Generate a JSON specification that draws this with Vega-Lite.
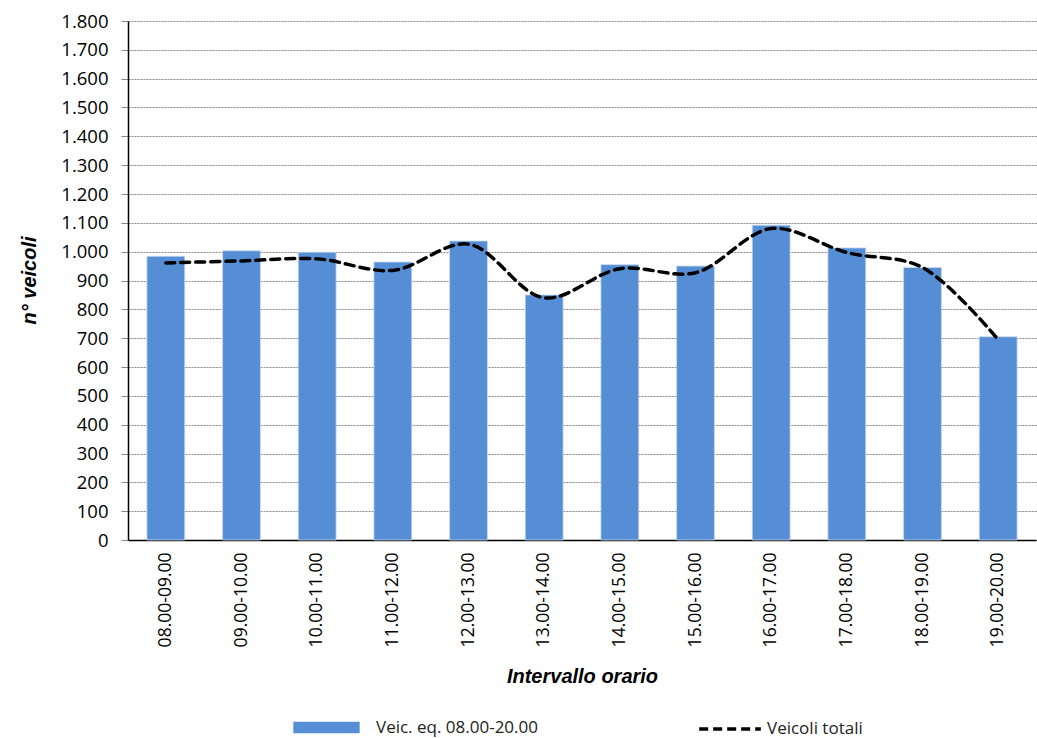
{
  "$schema": "https://vega.github.io/schema/vega-lite/v6.json",
  "autosize": {"type": "none"},
  "width": 908,
  "height": 519,
  "padding": {"left": 128, "top": 21, "right": 1, "bottom": 198},
  "background": "white",
  "config": {
    "view": {"stroke": null},
    "font": "Open Sans"
  },
  "data": {
    "values": [
      {"fascia": "08.00-09.00", "eq": 984, "tot": 961},
      {"fascia": "09.00-10.00", "eq": 1003, "tot": 968},
      {"fascia": "10.00-11.00", "eq": 998, "tot": 975},
      {"fascia": "11.00-12.00", "eq": 964, "tot": 935},
      {"fascia": "12.00-13.00", "eq": 1037, "tot": 1026},
      {"fascia": "13.00-14.00", "eq": 850, "tot": 840},
      {"fascia": "14.00-15.00", "eq": 955, "tot": 941},
      {"fascia": "15.00-16.00", "eq": 950, "tot": 927},
      {"fascia": "16.00-17.00", "eq": 1092, "tot": 1080},
      {"fascia": "17.00-18.00", "eq": 1013, "tot": 997},
      {"fascia": "18.00-19.00", "eq": 945, "tot": 945},
      {"fascia": "19.00-20.00", "eq": 705, "tot": 695}
    ]
  },
  "encoding": {
    "x": {
      "field": "fascia",
      "type": "ordinal",
      "sort": null,
      "scale": {"paddingInner": 0.5, "paddingOuter": 0.25},
      "axis": {
        "title": "Intervallo orario",
        "titleFont": "Liberation Sans",
        "titleFontSize": 20,
        "titleFontWeight": "bold",
        "titleFontStyle": "italic",
        "titleColor": "black",
        "titleBaseline": "middle",
        "titleY": 136,
        "labelAngle": -90,
        "labelFontSize": 17.5,
        "labelColor": "black",
        "labelPadding": 12,
        "labelOverlap": false,
        "ticks": false,
        "domainColor": "black",
        "domainWidth": 1.5,
        "grid": false
      }
    }
  },
  "layer": [
    {
      "mark": {"type": "bar", "stroke": "#c8d9f0", "strokeWidth": 0.8},
      "encoding": {
        "y": {
          "field": "eq",
          "type": "quantitative",
          "scale": {"domain": [0, 1800], "nice": false},
          "axis": {
            "title": "n° veicoli",
            "titleFont": "Liberation Sans",
            "titleFontSize": 20,
            "titleFontWeight": "bold",
            "titleFontStyle": "italic",
            "titleColor": "black",
            "titleX": -99,
            "titleY": 259,
            "titleAngle": -90,
            "titleBaseline": "middle",
            "titleAlign": "center",
            "values": [0,100,200,300,400,500,600,700,800,900,1000,1100,1200,1300,1400,1500,1600,1700,1800],
            "labelExpr": "replace(format(datum.value, ','), ',', '.')",
            "labelFontSize": 18.5,
            "labelColor": "black",
            "labelPadding": 13,
            "labelOverlap": false,
            "tickSize": 7,
            "tickColor": "#888888",
            "domainColor": "black",
            "domainWidth": 1.5,
            "grid": true,
            "gridColor": "#888888",
            "gridDash": [2, 1],
            "gridWidth": 1
          }
        },
        "fill": {
          "datum": "Veic. eq. 08.00-20.00",
          "scale": {"range": ["#558ed5"]},
          "legend": {
            "orient": "none",
            "legendX": 165,
            "legendY": 673,
            "title": null,
            "symbolType": "M-1,-0.17L1,-0.17L1,0.17L-1,0.17Z",
            "symbolSize": 4400,
            "symbolStrokeWidth": 0,
            "labelFontSize": 17,
            "labelLimit": 400,
            "labelColor": "#222222",
            "labelOffset": 16
          }
        }
      }
    },
    {
      "mark": {"type": "line", "interpolate": "catmull-rom", "strokeWidth": 3.5, "strokeDash": [9, 6], "strokeCap": "round"},
      "encoding": {
        "y": {
          "field": "tot",
          "type": "quantitative",
          "axis": {
            "title": "n° veicoli",
            "titleFont": "Liberation Sans",
            "titleFontSize": 20,
            "titleFontWeight": "bold",
            "titleFontStyle": "italic",
            "titleColor": "black",
            "titleX": -99,
            "titleY": 259,
            "titleAngle": -90,
            "titleBaseline": "middle",
            "titleAlign": "center",
            "values": [0,100,200,300,400,500,600,700,800,900,1000,1100,1200,1300,1400,1500,1600,1700,1800],
            "labelExpr": "replace(format(datum.value, ','), ',', '.')",
            "labelFontSize": 18.5,
            "labelColor": "black",
            "labelPadding": 13,
            "labelOverlap": false,
            "tickSize": 7,
            "tickColor": "#888888",
            "domainColor": "black",
            "domainWidth": 1.5,
            "grid": true,
            "gridColor": "#888888",
            "gridDash": [2, 1],
            "gridWidth": 1
          }
        },
        "stroke": {
          "datum": "Veicoli totali",
          "scale": {"range": ["black"]},
          "legend": {
            "orient": "none",
            "legendX": 569,
            "legendY": 675,
            "title": null,
            "symbolType": "stroke",
            "symbolSize": 3800,
            "symbolStrokeWidth": 3.5,
            "symbolDash": [9, 5],
            "labelFontSize": 17,
            "labelLimit": 400,
            "labelColor": "#222222",
            "labelOffset": 4
          }
        }
      }
    }
  ]
}
